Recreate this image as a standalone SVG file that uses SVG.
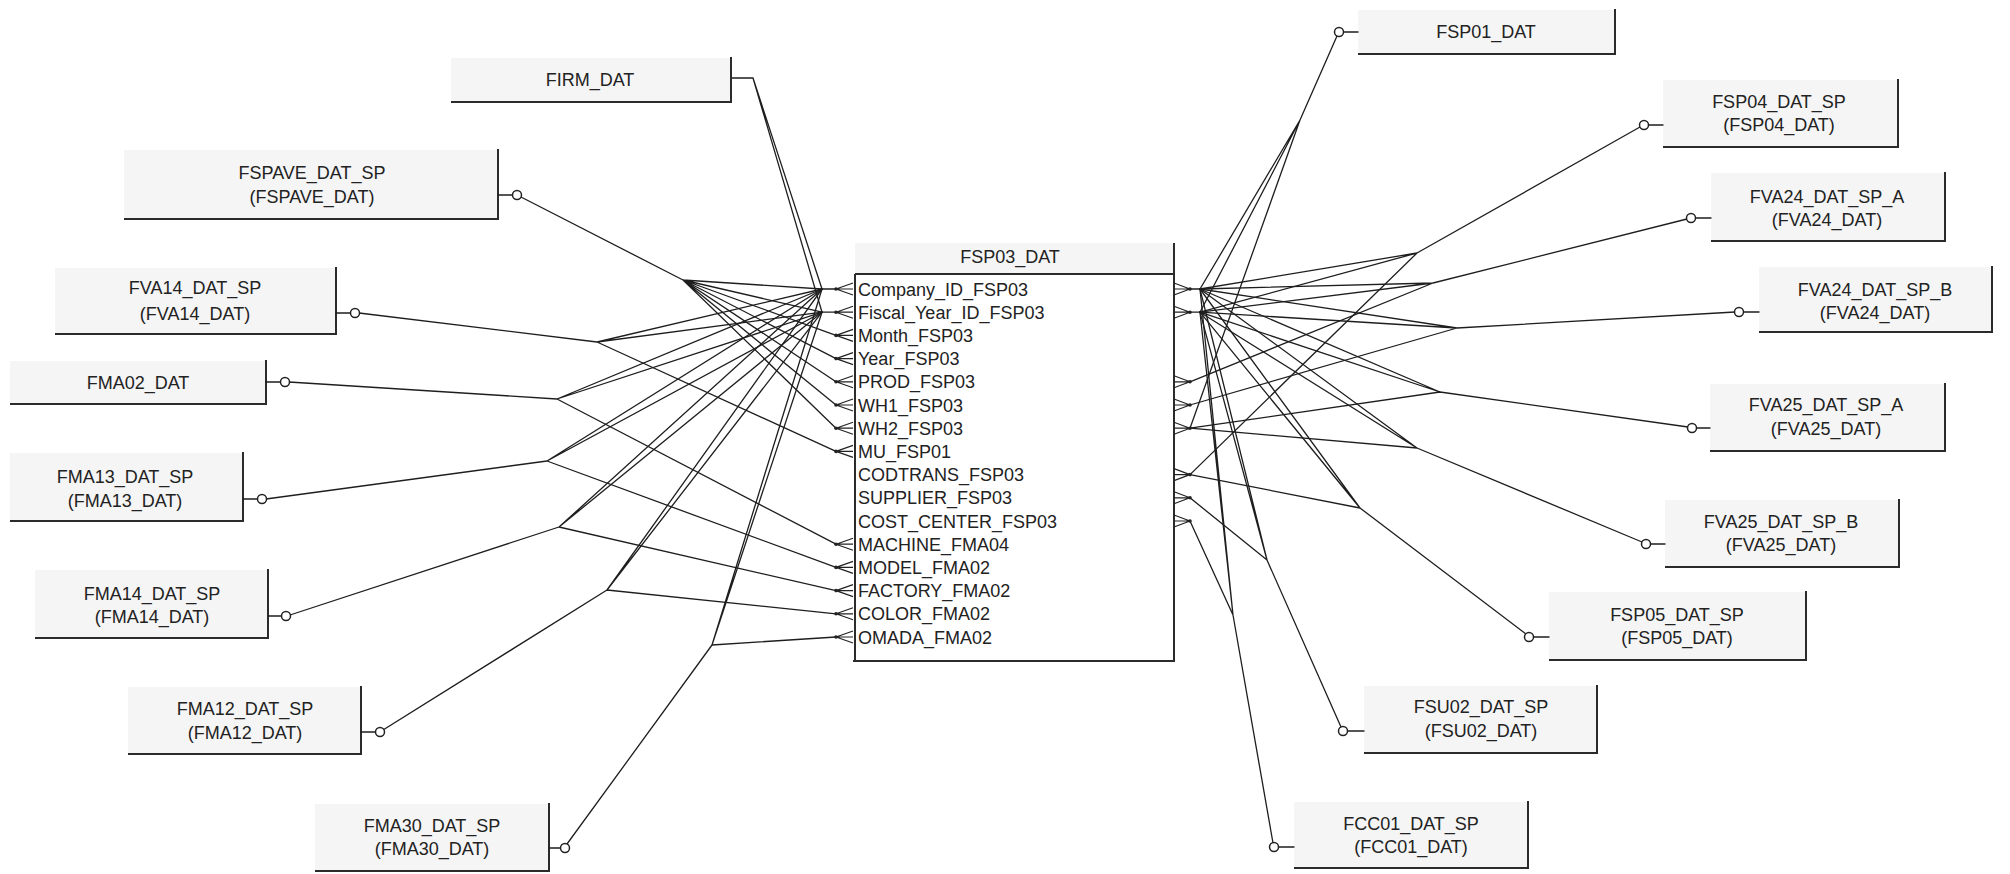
<svg xmlns="http://www.w3.org/2000/svg" xmlns:xlink="http://www.w3.org/1999/xlink" width="2010" height="874" viewBox="0 0 2010 874">
  <style>
    .bg { fill: #ffffff; }
    .fill { fill: #f5f5f5; }
    .edge { stroke: #2b2b2b; stroke-width: 2; fill: none; }
    .lbl { font-family: "Liberation Sans", Arial, sans-serif; font-size: 18px; fill: #222222; text-anchor: middle; }
    .col { font-family: "Liberation Sans", Arial, sans-serif; font-size: 18px; fill: #222222; }
    .wire { stroke: #1e1e1e; stroke-width: 1.3; fill: none; stroke-linecap: round; }
    .opt { stroke: #222222; stroke-width: 1.5; fill: #ffffff; }
    .crow { stroke: #222222; stroke-width: 1.2; fill: none; }
  </style>
  <defs>
    <!-- many-side markers, tip on the connector side -->
    <g id="crowL"><path class="crow" d="M0,0 L17,-6 M0,0 L17,0 M0,0 L17,6"/><circle r="1.8" fill="#222"/></g>
    <g id="crowR"><path class="crow" d="M0,0 L-16,-6 M0,0 L-16,0 M0,0 L-16,6"/><circle r="1.8" fill="#222"/></g>
  </defs>
  <rect class="bg" x="0" y="0" width="2010" height="874"/>

  <!-- relationship lines -->
  <g id="connectors">
    <!-- hubs at the key columns -->
    <path class="wire" d="M822,289 H836 M822,312.2 H836 M1200,289 H1190 M1200,312.2 H1190"/>
    <!-- FIRM_DAT -->
    <path class="wire" d="M731,78 H753 L822,289 M753,78 L822,312.2"/>
    <!-- FSPAVE_DAT_SP -->
    <path class="wire" d="M521,197 L683,280 M683,280 L822,289 M683,280 L822,312.2 M683,280 L836,335.4 M683,280 L836,358.6 M683,280 L836,381.8 M683,280 L836,405 M683,280 L836,428.2"/>
    <!-- FVA14_DAT_SP -->
    <path class="wire" d="M359,313 L597,342 M597,342 L822,289 M597,342 L822,312.2 M597,342 L836,451.4"/>
    <!-- FMA02_DAT -->
    <path class="wire" d="M289,382 L557,399 M557,399 L822,289 M557,399 L822,312.2 M557,399 L836,544.2"/>
    <!-- FMA13_DAT_SP -->
    <path class="wire" d="M266,499 L547,461 M547,461 L822,289 M547,461 L822,312.2 M547,461 L836,567.4"/>
    <!-- FMA14_DAT_SP -->
    <path class="wire" d="M290,615 L559,527 M559,527 L822,289 M559,527 L822,312.2 M559,527 L836,590.6"/>
    <!-- FMA12_DAT_SP -->
    <path class="wire" d="M383,730 L607,590 M607,590 L822,289 M607,590 L822,312.2 M607,590 L836,613.8"/>
    <!-- FMA30_DAT_SP -->
    <path class="wire" d="M567,844 L712,645 M712,645 L822,289 M712,645 L822,312.2 M712,645 L836,637"/>

    <!-- FSP01_DAT -->
    <path class="wire" d="M1337,36 L1300,120 M1300,120 L1200,289 M1300,120 L1200,312.2 M1300,120 L1190,428.2"/>
    <!-- FSP04_DAT_SP -->
    <path class="wire" d="M1640,127 L1417,253 M1417,253 L1200,289 M1417,253 L1200,312.2 M1417,253 L1190,474.6"/>
    <!-- FVA24_DAT_SP_A -->
    <path class="wire" d="M1687,219 L1433,283 M1433,283 L1200,289 M1433,283 L1200,312.2 M1433,283 L1190,381.8"/>
    <!-- FVA24_DAT_SP_B -->
    <path class="wire" d="M1735,312 L1457,328 M1457,328 L1200,289 M1457,328 L1200,312.2 M1457,328 L1190,405"/>
    <!-- FVA25_DAT_SP_A -->
    <path class="wire" d="M1688,427 L1440,392 M1440,392 L1200,289 M1440,392 L1200,312.2 M1440,392 L1190,428.2"/>
    <!-- FVA25_DAT_SP_B -->
    <path class="wire" d="M1642,542 L1417,448 M1417,448 L1200,289 M1417,448 L1200,312.2 M1417,448 L1190,428.2"/>
    <!-- FSP05_DAT_SP -->
    <path class="wire" d="M1526,634 L1360,508 M1360,508 L1200,289 M1360,508 L1200,312.2 M1360,508 L1190,474.6"/>
    <!-- FSU02_DAT_SP -->
    <path class="wire" d="M1341,727 L1267,560 M1267,560 L1200,289 M1267,560 L1200,312.2 M1267,560 L1190,497.8"/>
    <!-- FCC01_DAT_SP -->
    <path class="wire" d="M1273,843 L1233,615 M1233,615 L1200,289 M1233,615 L1200,312.2 M1233,615 L1190,521"/>
  </g>

  <!-- central table -->
  <g id="FSP03_DAT">
    <rect class="fill" x="855" y="243" width="319" height="31"/>
    <rect x="855" y="274" width="319" height="387" fill="#ffffff"/>
    <path class="edge" d="M855,274 H1173 M855,274 V661 M1174,243 V661 M853,661 H1175"/>
    <text class="lbl" x="1010" y="263">FSP03_DAT</text>
    <g class="col">
      <text x="858" y="295.5">Company_ID_FSP03</text>
      <text x="858" y="318.7">Fiscal_Year_ID_FSP03</text>
      <text x="858" y="341.9">Month_FSP03</text>
      <text x="858" y="365.1">Year_FSP03</text>
      <text x="858" y="388.3">PROD_FSP03</text>
      <text x="858" y="411.5">WH1_FSP03</text>
      <text x="858" y="434.7">WH2_FSP03</text>
      <text x="858" y="457.9">MU_FSP01</text>
      <text x="858" y="481.1">CODTRANS_FSP03</text>
      <text x="858" y="504.3">SUPPLIER_FSP03</text>
      <text x="858" y="527.5">COST_CENTER_FSP03</text>
      <text x="858" y="550.7">MACHINE_FMA04</text>
      <text x="858" y="573.9">MODEL_FMA02</text>
      <text x="858" y="597.1">FACTORY_FMA02</text>
      <text x="858" y="620.3">COLOR_FMA02</text>
      <text x="858" y="643.5">OMADA_FMA02</text>
    </g>
    <!-- many-side ends, left -->
    <use xlink:href="#crowL" x="836" y="289"/>
    <use xlink:href="#crowL" x="836" y="312.2"/>
    <use xlink:href="#crowL" x="836" y="335.4"/>
    <use xlink:href="#crowL" x="836" y="358.6"/>
    <use xlink:href="#crowL" x="836" y="381.8"/>
    <use xlink:href="#crowL" x="836" y="405"/>
    <use xlink:href="#crowL" x="836" y="428.2"/>
    <use xlink:href="#crowL" x="836" y="451.4"/>
    <use xlink:href="#crowL" x="836" y="544.2"/>
    <use xlink:href="#crowL" x="836" y="567.4"/>
    <use xlink:href="#crowL" x="836" y="590.6"/>
    <use xlink:href="#crowL" x="836" y="613.8"/>
    <use xlink:href="#crowL" x="836" y="637"/>
    <!-- many-side ends, right -->
    <use xlink:href="#crowR" x="1190" y="289"/>
    <use xlink:href="#crowR" x="1190" y="312.2"/>
    <use xlink:href="#crowR" x="1190" y="381.8"/>
    <use xlink:href="#crowR" x="1190" y="405"/>
    <use xlink:href="#crowR" x="1190" y="428.2"/>
    <use xlink:href="#crowR" x="1190" y="474.6"/>
    <use xlink:href="#crowR" x="1190" y="497.8"/>
    <use xlink:href="#crowR" x="1190" y="521"/>
  </g>

  <!-- left-hand tables -->
  <g id="FIRM_DAT">
    <rect class="fill" x="451" y="58" width="280" height="45"/>
    <path class="edge" d="M731,57 V103 M451,102 H732"/>
    <text class="lbl" x="590" y="86">FIRM_DAT</text>
  </g>
  <g id="FSPAVE_DAT_SP">
    <rect class="fill" x="124" y="150" width="374" height="70"/>
    <path class="edge" d="M498,149 V220 M124,219 H499"/>
    <text class="lbl" x="312" y="179">FSPAVE_DAT_SP</text>
    <text class="lbl" x="312" y="203">(FSPAVE_DAT)</text>
    <path class="wire" d="M498,195 H512.5"/>
    <circle class="opt" cx="517" cy="195" r="4.5"/>
  </g>
  <g id="FVA14_DAT_SP">
    <rect class="fill" x="55" y="268" width="281" height="67"/>
    <path class="edge" d="M336,267 V335 M55,334 H337"/>
    <text class="lbl" x="195" y="294">FVA14_DAT_SP</text>
    <text class="lbl" x="195" y="320">(FVA14_DAT)</text>
    <path class="wire" d="M336,313 H350.5"/>
    <circle class="opt" cx="355" cy="313" r="4.5"/>
  </g>
  <g id="FMA02_DAT">
    <rect class="fill" x="10" y="361" width="256" height="44"/>
    <path class="edge" d="M266,360 V405 M10,404 H267"/>
    <text class="lbl" x="138" y="389">FMA02_DAT</text>
    <path class="wire" d="M266,382 H280.5"/>
    <circle class="opt" cx="285" cy="382" r="4.5"/>
  </g>
  <g id="FMA13_DAT_SP">
    <rect class="fill" x="10" y="453" width="233" height="69"/>
    <path class="edge" d="M243,452 V522 M10,521 H244"/>
    <text class="lbl" x="125" y="483">FMA13_DAT_SP</text>
    <text class="lbl" x="125" y="507">(FMA13_DAT)</text>
    <path class="wire" d="M243,499 H257.5"/>
    <circle class="opt" cx="262" cy="499" r="4.5"/>
  </g>
  <g id="FMA14_DAT_SP">
    <rect class="fill" x="35" y="570" width="233" height="69"/>
    <path class="edge" d="M268,569 V639 M35,638 H269"/>
    <text class="lbl" x="152" y="600">FMA14_DAT_SP</text>
    <text class="lbl" x="152" y="623">(FMA14_DAT)</text>
    <path class="wire" d="M268,616 H281.5"/>
    <circle class="opt" cx="286" cy="616" r="4.5"/>
  </g>
  <g id="FMA12_DAT_SP">
    <rect class="fill" x="128" y="687" width="233" height="68"/>
    <path class="edge" d="M361,686 V755 M128,754 H362"/>
    <text class="lbl" x="245" y="715">FMA12_DAT_SP</text>
    <text class="lbl" x="245" y="739">(FMA12_DAT)</text>
    <path class="wire" d="M361,732 H375.5"/>
    <circle class="opt" cx="380" cy="732" r="4.5"/>
  </g>
  <g id="FMA30_DAT_SP">
    <rect class="fill" x="315" y="804" width="234" height="68"/>
    <path class="edge" d="M549,803 V872 M315,871 H550"/>
    <text class="lbl" x="432" y="832">FMA30_DAT_SP</text>
    <text class="lbl" x="432" y="855">(FMA30_DAT)</text>
    <path class="wire" d="M549,848 H560.5"/>
    <circle class="opt" cx="565" cy="848" r="4.5"/>
  </g>

  <!-- right-hand tables -->
  <g id="FSP01_DAT">
    <rect class="fill" x="1358" y="10" width="257" height="44"/>
    <path class="edge" d="M1615,9 V55 M1358,54 H1616"/>
    <text class="lbl" x="1486" y="38">FSP01_DAT</text>
    <path class="wire" d="M1343.5,32 H1358"/>
    <circle class="opt" cx="1339" cy="32" r="4.5"/>
  </g>
  <g id="FSP04_DAT_SP">
    <rect class="fill" x="1663" y="80" width="235" height="68"/>
    <path class="edge" d="M1898,79 V148 M1663,147 H1899"/>
    <text class="lbl" x="1779" y="108">FSP04_DAT_SP</text>
    <text class="lbl" x="1779" y="131">(FSP04_DAT)</text>
    <path class="wire" d="M1648.5,125 H1663"/>
    <circle class="opt" cx="1644" cy="125" r="4.5"/>
  </g>
  <g id="FVA24_DAT_SP_A">
    <rect class="fill" x="1711" y="173" width="234" height="69"/>
    <path class="edge" d="M1945,172 V242 M1711,241 H1946"/>
    <text class="lbl" x="1827" y="203">FVA24_DAT_SP_A</text>
    <text class="lbl" x="1827" y="226">(FVA24_DAT)</text>
    <path class="wire" d="M1695.5,218 H1711"/>
    <circle class="opt" cx="1691" cy="218" r="4.5"/>
  </g>
  <g id="FVA24_DAT_SP_B">
    <rect class="fill" x="1759" y="267" width="233" height="66"/>
    <path class="edge" d="M1992,266 V333 M1759,332 H1993"/>
    <text class="lbl" x="1875" y="296">FVA24_DAT_SP_B</text>
    <text class="lbl" x="1875" y="319">(FVA24_DAT)</text>
    <path class="wire" d="M1743.5,312 H1759"/>
    <circle class="opt" cx="1739" cy="312" r="4.5"/>
  </g>
  <g id="FVA25_DAT_SP_A">
    <rect class="fill" x="1710" y="384" width="235" height="68"/>
    <path class="edge" d="M1945,383 V452 M1710,451 H1946"/>
    <text class="lbl" x="1826" y="411">FVA25_DAT_SP_A</text>
    <text class="lbl" x="1826" y="435">(FVA25_DAT)</text>
    <path class="wire" d="M1696.5,428 H1710"/>
    <circle class="opt" cx="1692" cy="428" r="4.5"/>
  </g>
  <g id="FVA25_DAT_SP_B">
    <rect class="fill" x="1665" y="500" width="234" height="68"/>
    <path class="edge" d="M1899,499 V568 M1665,567 H1900"/>
    <text class="lbl" x="1781" y="528">FVA25_DAT_SP_B</text>
    <text class="lbl" x="1781" y="551">(FVA25_DAT)</text>
    <path class="wire" d="M1650.5,544 H1665"/>
    <circle class="opt" cx="1646" cy="544" r="4.5"/>
  </g>
  <g id="FSP05_DAT_SP">
    <rect class="fill" x="1549" y="592" width="257" height="69"/>
    <path class="edge" d="M1806,591 V661 M1549,660 H1807"/>
    <text class="lbl" x="1677" y="621">FSP05_DAT_SP</text>
    <text class="lbl" x="1677" y="644">(FSP05_DAT)</text>
    <path class="wire" d="M1533.5,637 H1549"/>
    <circle class="opt" cx="1529" cy="637" r="4.5"/>
  </g>
  <g id="FSU02_DAT_SP">
    <rect class="fill" x="1364" y="686" width="233" height="68"/>
    <path class="edge" d="M1597,685 V754 M1364,753 H1598"/>
    <text class="lbl" x="1481" y="713">FSU02_DAT_SP</text>
    <text class="lbl" x="1481" y="737">(FSU02_DAT)</text>
    <path class="wire" d="M1347.5,731 H1364"/>
    <circle class="opt" cx="1343" cy="731" r="4.5"/>
  </g>
  <g id="FCC01_DAT_SP">
    <rect class="fill" x="1294" y="802" width="234" height="67"/>
    <path class="edge" d="M1528,801 V869 M1294,868 H1529"/>
    <text class="lbl" x="1411" y="830">FCC01_DAT_SP</text>
    <text class="lbl" x="1411" y="853">(FCC01_DAT)</text>
    <path class="wire" d="M1278.5,847 H1294"/>
    <circle class="opt" cx="1274" cy="847" r="4.5"/>
  </g>
</svg>
